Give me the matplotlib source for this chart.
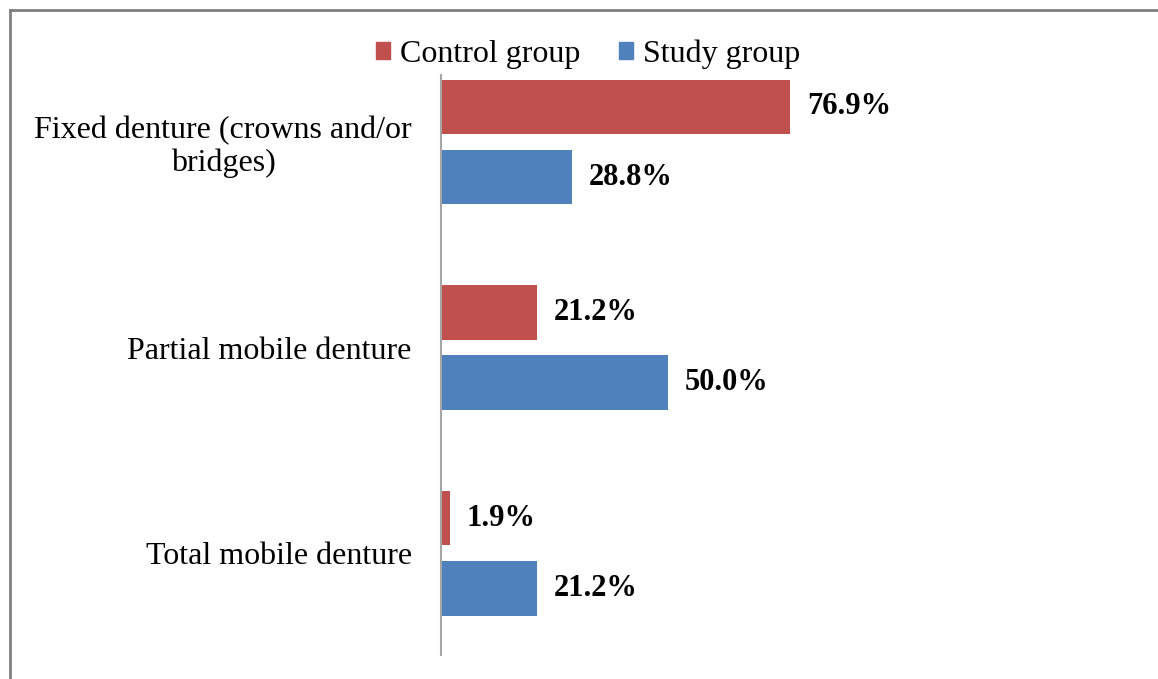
import numpy as np
import matplotlib
matplotlib.use('Agg')
import matplotlib.pyplot as plt
from matplotlib.lines import Line2D
from matplotlib.patches import Patch

plt.rcParams['font.family'] = ['Liberation Serif', 'DejaVu Serif']

categories = ['Fixed denture (crowns and/or\nbridges)', 'Partial mobile denture', 'Total mobile denture']
control = [76.9, 21.2, 1.9]
study = [28.8, 50.0, 21.2]
series_names = ['Control group', 'Study group']

red = '#C0504D'
blue = '#4F81BD'

fig = plt.figure(figsize=(11.58, 6.79), dpi=100)
ax = fig.add_axes([441/1158, 24/679, (895-441)/1158, (655-75)/679])

y = np.arange(len(categories))
h = 0.267
off = 0.037 + h/2
bc = ax.barh(y - off, control, height=h, color=red)
bs = ax.barh(y + off, study, height=h, color=blue)

for bars, vals in [(bc, control), (bs, study)]:
    for b, v in zip(bars, vals):
        ax.annotate('%.1f%%' % v, (b.get_width(), b.get_y() + b.get_height()/2),
                    xytext=(12, 0), textcoords='offset points', va='center', ha='left',
                    fontsize=22, fontweight='bold')

ax.set_xlim(0, 100)
ax.set_ylim(2.496, -0.326)
ax.set_yticks(y)
ax.set_yticklabels(categories, fontsize=23, multialignment='center', linespacing=1.15)
ax.tick_params(axis='y', length=0, pad=21)
ax.set_xticks([])
for s in ['top', 'right', 'bottom']:
    ax.spines[s].set_visible(False)
ax.spines['left'].set_color('#A6A6A6')
ax.spines['left'].set_linewidth(1.5)

handles = [Patch(color=red), Patch(color=blue)]
fig.legend(handles, series_names, loc='center', bbox_to_anchor=(588/1158, 1 - 54/679),
           ncol=2, frameon=False, fontsize=23, handlelength=0.45, handleheight=0.45,
           handletextpad=0.3, columnspacing=1.2)

# outer frame (top and left edges visible)
fig.add_artist(Line2D([10/1158, 1], [1 - 10/679, 1 - 10/679], color='#808080', lw=2))
fig.add_artist(Line2D([10/1158, 10/1158], [0, 1 - 10/679], color='#808080', lw=2))

plt.savefig('out.png', dpi=100)
